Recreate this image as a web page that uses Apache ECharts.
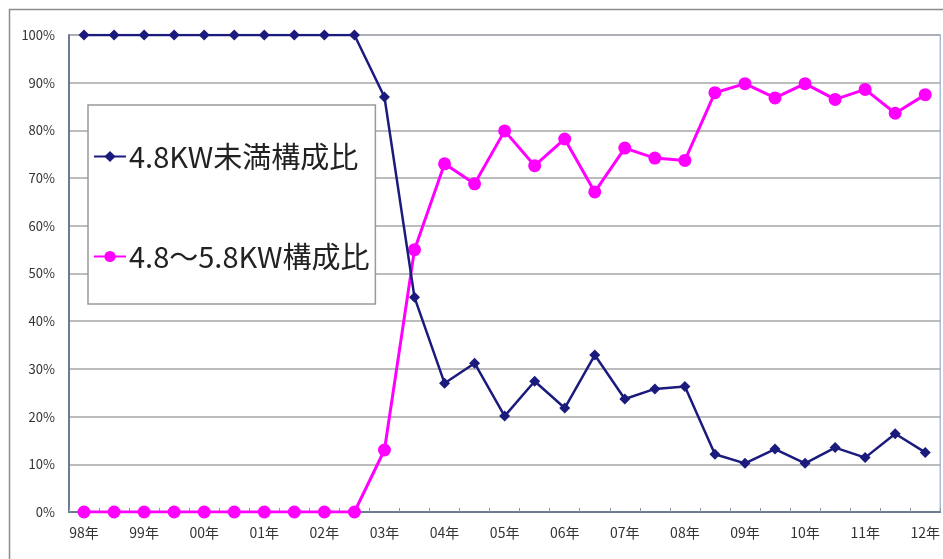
<!DOCTYPE html>
<html>
<head>
<meta charset="utf-8">
<script src="https://cdn.jsdelivr.net/npm/echarts@6/dist/echarts.min.js"></script>
<style>
html,body{margin:0;padding:0;background:#fff;}
#chart{width:943px;height:559px;}
</style>
</head>
<body>
<div id="chart"></div>
<script>
// Half-year periods; only the first half of each year is labelled
var categories = [
  '98年','98年下','99年','99年下','00年','00年下','01年','01年下','02年','02年下',
  '03年','03年下','04年','04年下','05年','05年下','06年','06年下','07年','07年下',
  '08年','08年下','09年','09年下','10年','10年下','11年','11年下','12年'
];
var seriesNames = ['4.8KW未満構成比', '4.8～5.8KW構成比'];
var under48 = [100,100,100,100,100,100,100,100,100,100,
  87,45,27,31.2,20.1,27.4,21.8,32.9,23.7,25.8,
  26.3,12.1,10.2,13.2,10.2,13.5,11.4,16.4,12.5];
var from48to58 = [0,0,0,0,0,0,0,0,0,0,
  13,55,73,68.8,79.9,72.6,78.2,67.1,76.3,74.2,
  73.7,87.9,89.8,86.8,89.8,86.5,88.6,83.6,87.5];
var yTicks = [0,10,20,30,40,50,60,70,80,90,100];

var chart = echarts.init(document.getElementById('chart'));
var font = "'Noto Sans CJK JP', sans-serif";
chart.setOption({
  animation: false,
  backgroundColor: '#ffffff',
  graphic: [{
    type: 'rect', left: 7, top: 7, z: -10, silent: true,
    shape: {width: 1000, height: 600},
    style: {fill: 'none', stroke: '#8c8c8c', lineWidth: 1.5}
  }],
  grid: {
    left: 69, top: 35, right: 2, bottom: 47,
    show: true, borderColor: '#a9bcd8', borderWidth: 1.5, backgroundColor: 'transparent'
  },
  legend: {
    orient: 'vertical', left: 88, top: 105,
    data: seriesNames,
    backgroundColor: '#ffffff', borderColor: '#9a9a9a', borderWidth: 1.5,
    padding: [37, 6, 33, 5], itemGap: 71, itemWidth: 32, itemHeight: 14,
    textStyle: {fontSize: 29, fontFamily: font, color: '#222', padding: [0,0,0,-2]}
  },
  xAxis: {
    type: 'category', data: categories, boundaryGap: true,
    axisLine: {lineStyle: {color: '#6b7c90', width: 2}},
    axisTick: {show: true, interval: 0, inside: true, length: 4, lineStyle: {color: '#8a96a6'}},
    axisLabel: {interval: 1, margin: 14, fontSize: 14, fontFamily: font, color: '#333'}
  },
  yAxis: {
    type: 'value', min: yTicks[0], max: yTicks[yTicks.length-1], interval: 10,
    axisLine: {show: true, lineStyle: {color: '#6b7c90', width: 2}},
    axisTick: {show: false},
    axisLabel: {margin: 14, fontSize: 13, fontFamily: font, color: '#333', formatter: '{value}%'},
    splitLine: {lineStyle: {color: '#a6a6a6', width: 1.5}}
  },
  series: [{
    name: seriesNames[0], type: 'line', data: under48, z: 4,
    symbol: 'diamond', symbolSize: 11, showAllSymbol: true,
    lineStyle: {color: '#1b1b7e', width: 2.5},
    itemStyle: {color: '#1b1b7e'}
  }, {
    name: seriesNames[1], type: 'line', data: from48to58, z: 3,
    symbol: 'circle', symbolSize: 13, showAllSymbol: true,
    lineStyle: {color: '#ff00ff', width: 3},
    itemStyle: {color: '#ff00ff'}
  }]
});
</script>
</body>
</html>
